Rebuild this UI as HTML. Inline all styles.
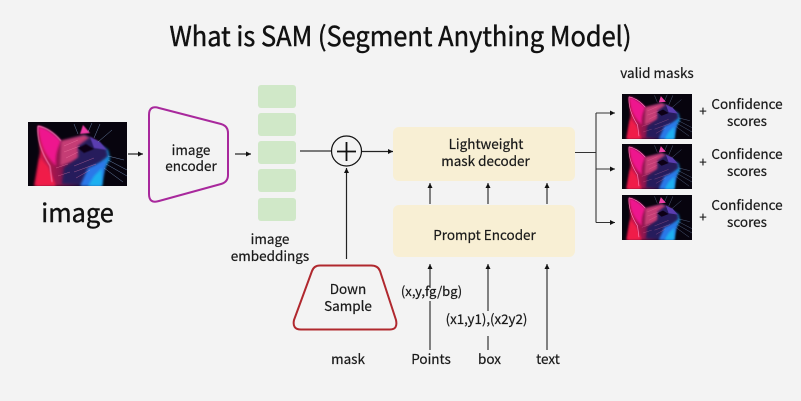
<!DOCTYPE html>
<html><head><meta charset="utf-8"><style>
html,body{margin:0;padding:0;background:#f3f3f3;width:801px;height:401px;overflow:hidden}
svg{display:block}
text{font-family:"Noto Sans CJK JP","Liberation Sans",sans-serif;fill:#1a1a1a;stroke:#1a1a1a;stroke-width:.22px;text-anchor:middle}
</style></head><body>
<svg width="801" height="401" viewBox="0 0 801 401" xmlns="http://www.w3.org/2000/svg">
<defs>
<linearGradient id="fur" x1="0" y1="0" x2="1" y2="0.2"><stop offset="0" stop-color="#f01a60"/><stop offset=".4" stop-color="#c9386f"/><stop offset=".62" stop-color="#5a2a90"/><stop offset="1" stop-color="#2a4cc0"/></linearGradient>
<linearGradient id="low" x1="0" y1="0" x2="1" y2="0"><stop offset="0" stop-color="#e81848"/><stop offset=".35" stop-color="#8a1850"/><stop offset=".6" stop-color="#231550"/><stop offset="1" stop-color="#18a0f0"/></linearGradient>
<filter id="b" x="-20%" y="-20%" width="140%" height="140%"><feGaussianBlur stdDeviation="1.4"/></filter>
<filter id="s" x="-10%" y="-10%" width="120%" height="120%"><feGaussianBlur stdDeviation=".4"/></filter>
<marker id="a" markerWidth="6" markerHeight="6" refX="5" refY="2.5" orient="auto" markerUnits="userSpaceOnUse"><path d="M0 0L5 2.500L0 5Z" fill="#111"/></marker>
<clipPath id="cc"><rect width="99" height="64"/></clipPath>
<g id="cat" clip-path="url(#cc)">
<rect width="99" height="64" fill="#07040e"/>
<path d="M6 64L12 30L10 4L33 19L57 13L80 28L82 37L76 48L74 64Z" fill="url(#low)" filter="url(#b)"/>
<path d="M10 4C20 6 28 13 33 19C29 28 27 34 28 44C20 36 12 26 10 4Z" fill="#ee148e" filter="url(#b)"/>
<path d="M8 64L12 36L20 44L28 64Z" fill="#f01f4a" filter="url(#b)"/>
<path d="M33 19L56 13L70 20L60 32L44 40L32 44Z" fill="#c53c74" filter="url(#b)"/>
<path d="M50 24L62 15L78 26L80 34L68 44L58 62H34L36 46L50 36Z" fill="#281a5c" filter="url(#b)"/>
<path d="M62 15L72 20L79 28L66 26Z" fill="#5a3cb0" filter="url(#s)"/>
<path d="M55 3L62 11L52 12Z" fill="#ee3ca6" filter="url(#s)"/>
<path d="M50 26L58 22L66 27L56 31Z" fill="#0e0618" filter="url(#s)"/>
<path d="M60 46L78 38L76 50L72 64H52Z" fill="#2a78e8" filter="url(#b)"/>
<path d="M66 54L74 46L74 64H60Z" fill="#1cb0f0" filter="url(#b)"/>
<path d="M10 4C20 6 28 13 33 19M10 4C9 16 13 30 22 44L24 60" fill="none" stroke="#ff86c0" stroke-width=".9" filter="url(#s)"/>
<path d="M36 24L50 18M36 30L52 24M38 36L50 30M28 46L40 42M30 54L42 50M46 44L66 36M46 50L68 42M48 56L62 48" fill="none" stroke="#ff8ab0" stroke-width=".5" opacity=".55"/>
<path d="M80 38L99 48M78 42L99 54M76 46L95 60M80 34L96 38M70 20L84 8M66 16L72 2M50 12L46 2M60 10L64 1" fill="none" stroke="#9cc0f4" stroke-width=".45" opacity=".75"/>
</g>
</defs>

<rect width="801" height="401" fill="#f3f3f3"/>

<text x="400.500" y="46" font-size="27" textLength="462" lengthAdjust="spacingAndGlyphs" style="stroke-width:.45px;fill:#111;stroke:#111">What is SAM (Segment Anything Model)</text>

<use href="#cat" transform="translate(28,122)"/>
<text x="77.500" y="222" font-size="25.300" style="stroke-width:.4px;fill:#111;stroke:#111">image</text>

<line x1="128" y1="154" x2="143" y2="154" stroke="#222" stroke-width="1.2" marker-end="url(#a)"/>
<path d="M149 115Q149 105 159 108L221 124Q228 126 228 133V175Q228 182 221 184L159 201Q149 204 149 194Z" fill="none" stroke="#a8289c" stroke-width="2"/>
<text x="191" y="155" font-size="13.500">image</text>
<text x="191" y="171" font-size="13.500">encoder</text>
<line x1="235" y1="154" x2="251" y2="154" stroke="#222" stroke-width="1.2" marker-end="url(#a)"/>

<g fill="#d0e8c8">
<rect x="258" y="85" width="38" height="23" rx="3"/>
<rect x="258" y="113" width="38" height="23" rx="3"/>
<rect x="258" y="141" width="38" height="23" rx="3"/>
<rect x="258" y="169" width="38" height="23" rx="3"/>
<rect x="258" y="198" width="38" height="23" rx="3"/>
</g>
<text x="270" y="244" font-size="13.500">image</text>
<text x="270" y="261" font-size="13.500">embeddings</text>

<line x1="300" y1="151" x2="331" y2="151" stroke="#333" stroke-width="1.2"/>
<circle cx="346.500" cy="151" r="15" fill="#f3f3f3" stroke="#111" stroke-width="1.2"/>
<path d="M337 151.500H356M346.500 142V161" stroke="#111" stroke-width="1.8" fill="none"/>
<line x1="362" y1="151.500" x2="393" y2="151.500" stroke="#222" stroke-width="1.2" marker-end="url(#a)"/>
<line x1="346.500" y1="259" x2="346.500" y2="168" stroke="#222" stroke-width="1.2" marker-end="url(#a)"/>

<path d="M320 265.500H371Q378 265.500 380 271L396 320Q398 329.500 390 329.500H301Q292 329.500 294 320L312 271Q314 265.500 320 265.500Z" fill="none" stroke="#b0282e" stroke-width="2"/>
<text x="348" y="294" font-size="13.500">Down</text>
<text x="348" y="311" font-size="13.500">Sample</text>
<text x="348" y="364" font-size="13.500">mask</text>

<rect x="393" y="127" width="182" height="54" rx="6" fill="#f8efd4"/>
<rect x="393" y="205" width="182" height="52" rx="6" fill="#f8efd4"/>
<text x="486" y="149" font-size="13.500">Lightweight</text>
<text x="485.500" y="166" font-size="13.500">mask decoder</text>
<text x="484.500" y="240" font-size="13.500">Prompt Encoder</text>

<g stroke="#222" stroke-width="1.1" fill="none">
<line x1="430" y1="204" x2="430" y2="183" marker-end="url(#a)"/>
<line x1="488" y1="204" x2="488" y2="183" marker-end="url(#a)"/>
<line x1="547" y1="204" x2="547" y2="183" marker-end="url(#a)"/>
<line x1="430" y1="288" x2="430" y2="264" marker-end="url(#a)"/>
<line x1="430" y1="301" x2="430" y2="350"/>
<line x1="488" y1="311" x2="488" y2="264" marker-end="url(#a)"/>
<line x1="488" y1="336" x2="488" y2="350"/>
<line x1="547" y1="350" x2="547" y2="264" marker-end="url(#a)"/>
</g>
<text x="431.500" y="296" font-size="13">(x,y,fg/bg)</text>
<text x="486.500" y="324" font-size="13.300">(x1,y1),(x2y2)</text>
<text x="431" y="364" font-size="13.500">Points</text>
<text x="489.500" y="364" font-size="13.500">box</text>
<text x="548" y="364" font-size="13.500">text</text>

<g stroke="#333" stroke-width="1.1" fill="none">
<line x1="575" y1="152.500" x2="596" y2="152.500"/>
<line x1="596" y1="113" x2="596" y2="222.500"/>
<line x1="596" y1="113" x2="615" y2="113" marker-end="url(#a)"/>
<line x1="596" y1="169" x2="615" y2="169" marker-end="url(#a)"/>
<line x1="596" y1="222.500" x2="615" y2="222.500" marker-end="url(#a)"/>
</g>

<text x="657" y="78" font-size="13.500">valid masks</text>
<use href="#cat" transform="translate(622,94) scale(.707,.703)"/>
<use href="#cat" transform="translate(622,144) scale(.707,.703)"/>
<use href="#cat" transform="translate(622,195) scale(.707,.703)"/>
<text x="703" y="116" font-size="13">+</text>
<text x="703" y="167" font-size="13">+</text>
<text x="703" y="222" font-size="13">+</text>
<text x="747" y="109" font-size="13.500">Confidence</text>
<text x="747" y="126" font-size="13.500">scores</text>
<text x="747" y="159" font-size="13.500">Confidence</text>
<text x="747" y="176" font-size="13.500">scores</text>
<text x="747" y="210" font-size="13.500">Confidence</text>
<text x="747" y="227" font-size="13.500">scores</text>
</svg>
</body></html>
